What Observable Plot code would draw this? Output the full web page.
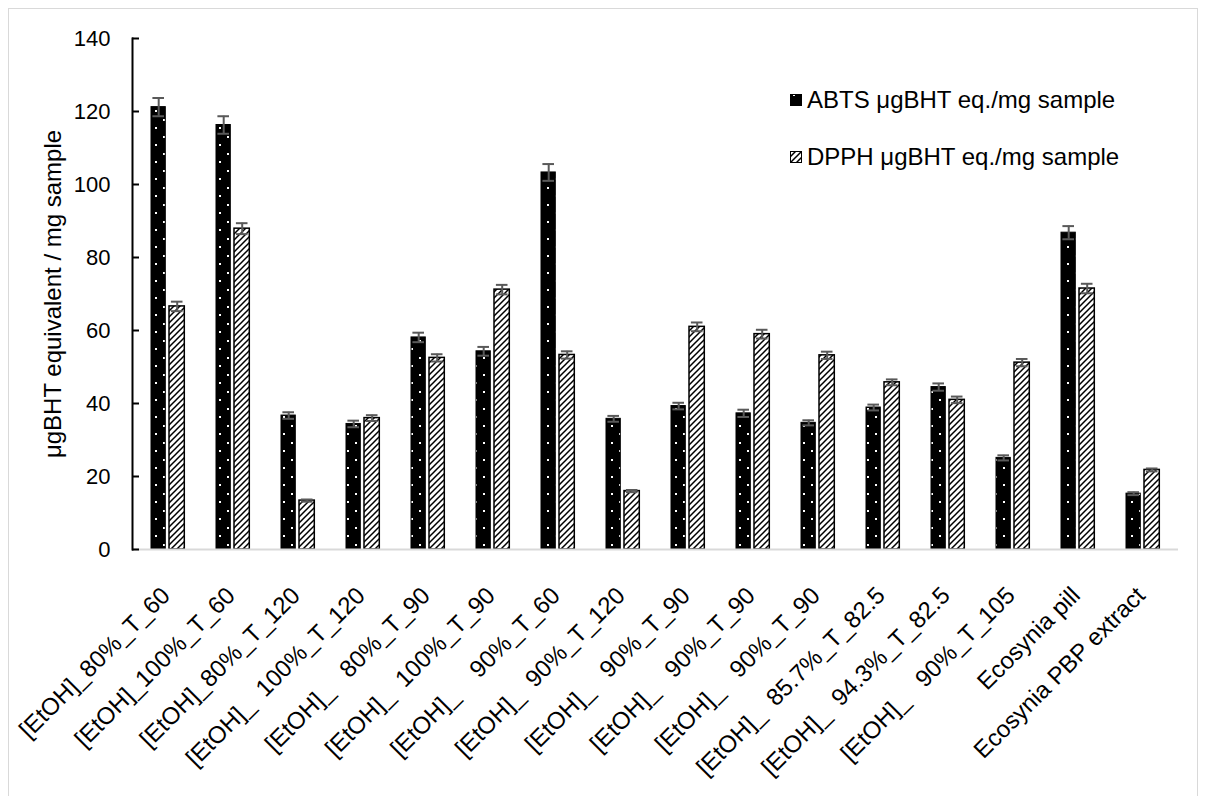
<!DOCTYPE html>
<html><head><meta charset="utf-8">
<script src="https://cdn.jsdelivr.net/npm/d3@7"></script>
<script src="https://cdn.jsdelivr.net/npm/@observablehq/plot@0.6"></script>
<style>
body{margin:0;background:#fff;font-family:"Liberation Sans",Arial,sans-serif;}
#wrap{position:relative;width:1207px;height:796px;overflow:hidden;background:#fff;}
#border{position:absolute;left:8px;top:8px;width:1190px;height:820px;border:1px solid #d9d9d9;box-sizing:border-box;}
.legend{position:absolute;left:790px;font-size:24px;line-height:26px;display:flex;align-items:center;color:#000;white-space:nowrap;}
.legend svg{margin-right:5px;}
#chart{position:absolute;left:0;top:0;}
#chart svg text{white-space:pre;}
</style></head><body>
<svg width="0" height="0" style="position:absolute">
<defs>
<pattern id="dots" patternUnits="userSpaceOnUse" width="16" height="17">
<rect width="16" height="17" fill="black"/>
<rect x="3" y="0" width="2" height="2" fill="white"/>
<rect x="11" y="8" width="2" height="2" fill="white"/>
</pattern>
<pattern id="hatch" patternUnits="userSpaceOnUse" width="6" height="6">
<rect width="6" height="6" fill="white"/>
<path d="M-1,7 L7,-1 M-1,1 L1,-1 M5,7 L7,5" stroke="black" stroke-width="1.5"/>
</pattern>
</defs></svg>
<div id="wrap">
<div id="border"></div>
<div id="chart"></div>
<div class="legend" style="top:87px"><svg width="12" height="12"><rect x="0.5" y="0.5" width="11" height="11" fill="url(#dots)" stroke="black"/></svg><span id="l1"></span></div>
<div class="legend" style="top:144px"><svg width="12" height="12"><rect x="0.5" y="0.5" width="11" height="11" fill="url(#hatch)" stroke="black"/></svg><span id="l2"></span></div>
</div>
<script>
const categories = [
  "[EtOH]_80%_T_60",
  "[EtOH]_100%_T_60",
  "[EtOH]_80%_T_120",
  "[EtOH]_  100%_T_120",
  "[EtOH]_   80%_T_90",
  "[EtOH]_  100%_T_90",
  "[EtOH]_    90%_T_60",
  "[EtOH]_  90%_T_120",
  "[EtOH]_   90%_T_90",
  "[EtOH]_   90%_T_90",
  "[EtOH]_   90%_T_90",
  "[EtOH]_  85.7%_T_82.5",
  "[EtOH]_  94.3%_T_82.5",
  "[EtOH]_   90%_T_105",
  "Ecosynia pill",
  "Ecosynia PBP extract"
];
const seriesNames = ["ABTS μgBHT eq./mg sample", "DPPH μgBHT eq./mg sample"];
const abts    = [121.2, 116.3, 36.7, 34.4, 58.1, 54.3, 103.3, 35.8, 39.3, 37.3, 34.7, 38.9, 44.5, 25.1, 86.8, 15.3];
const abtsErr = [2.5, 2.4, 0.9, 0.9, 1.3, 1.2, 2.3, 0.8, 0.9, 1.0, 0.7, 0.8, 1.0, 0.7, 1.8, 0.4];
const dpph    = [66.6, 87.9, 13.4, 36.0, 52.5, 71.2, 53.3, 16.0, 61.0, 59.0, 53.2, 45.8, 41.0, 51.2, 71.5, 21.8];
const dpphErr = [1.3, 1.5, 0.3, 0.8, 1.0, 1.3, 1.0, 0.3, 1.2, 1.2, 1.0, 0.8, 0.9, 1.0, 1.3, 0.4];
const yTicks = [0, 20, 40, 60, 80, 100, 120, 140];
const yLabel = "μgBHT equivalent / mg sample";

document.getElementById("l1").textContent = seriesNames[0];
document.getElementById("l2").textContent = seriesNames[1];

const data = categories.map((c, i) => ({i, abts: abts[i], abtsErr: abtsErr[i], dpph: dpph[i], dpphErr: dpphErr[i]}));
const errColor = "#595959";

const chart = Plot.plot({
  width: 1207, height: 796,
  marginLeft: 132, marginRight: 29, marginTop: 38, marginBottom: 247,
  x: {type: "band", domain: d3.range(categories.length), padding: 0},
  y: {domain: [0, 140]},
  style: {fontFamily: "'Liberation Sans', Arial, sans-serif", fontSize: "22px", color: "black", background: "transparent", overflow: "visible"},
  marks: [
    Plot.barY(data, {x: "i", y: "abts", fill: "url(#dots)", stroke: "black", strokeWidth: 1, insetLeft: 16, insetRight: 34.7}),
    Plot.barY(data, {x: "i", y: "dpph", fill: "url(#hatch)", stroke: "black", strokeWidth: 1.5, insetLeft: 34, insetRight: 15.7}),
    Plot.ruleY([0], {stroke: "#d9d9d9", strokeWidth: 2}),
    Plot.frame({anchor: "left", stroke: "black", strokeWidth: 2}),
    Plot.ruleX(data, {x: "i", y1: d => d.abts - d.abtsErr, y2: d => d.abts + d.abtsErr, dx: -9.3, stroke: errColor, strokeWidth: 2}),
    Plot.tickY(data, {x: "i", y: d => d.abts + d.abtsErr, insetLeft: 17.4, insetRight: 36, stroke: errColor, strokeWidth: 2}),
    Plot.tickY(data, {x: "i", y: d => d.abts - d.abtsErr, insetLeft: 17.4, insetRight: 36, stroke: errColor, strokeWidth: 2}),
    Plot.ruleX(data, {x: "i", y1: d => d.dpph - d.dpphErr, y2: d => d.dpph + d.dpphErr, dx: 9.2, stroke: errColor, strokeWidth: 2}),
    Plot.tickY(data, {x: "i", y: d => d.dpph + d.dpphErr, insetLeft: 35.9, insetRight: 17.5, stroke: errColor, strokeWidth: 2}),
    Plot.tickY(data, {x: "i", y: d => d.dpph - d.dpphErr, insetLeft: 35.9, insetRight: 17.5, stroke: errColor, strokeWidth: 2}),
    Plot.axisY({ticks: yTicks, tickSize: -7, tickPadding: 29, strokeWidth: 2, fontSize: 22, tickFormat: d => String(d)}),
    Plot.axisY({ticks: [], label: yLabel, labelAnchor: "center", labelArrow: "none", labelOffset: 89, fontSize: 24}),
    Plot.axisX({tickRotate: -45, tickSize: 0, tickPadding: 30, dx: -2, dy: 12, tickFormat: i => categories[i], label: null, fontSize: 24})
  ]
});
document.getElementById("chart").appendChild(chart);
</script>
</body></html>
